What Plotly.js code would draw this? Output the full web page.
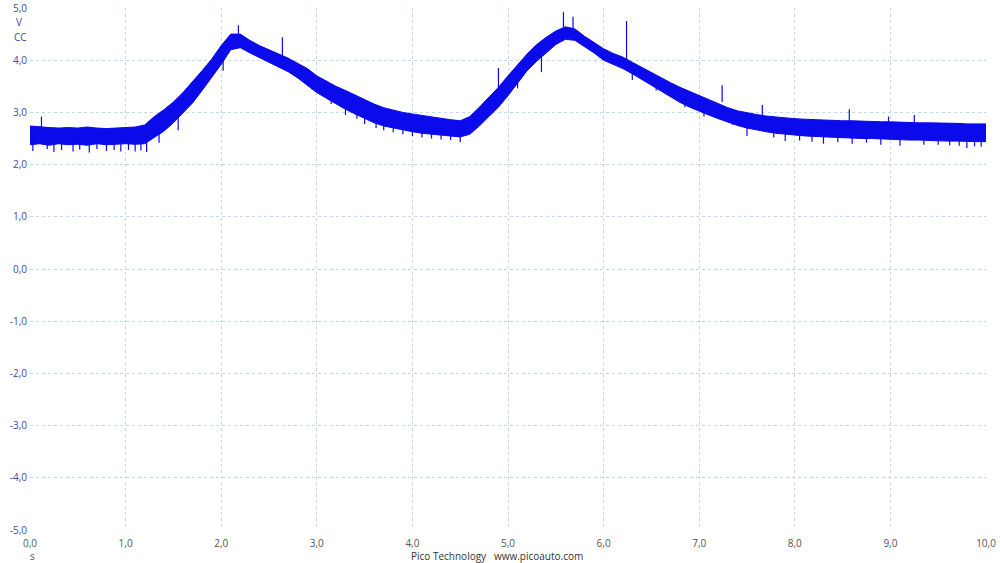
<!DOCTYPE html>
<html>
<head>
<meta charset="utf-8">
<script src="https://cdn.plot.ly/plotly-3.0.1.min.js"></script>
<style>html,body{margin:0;padding:0;background:#fff;}#chart{width:1000px;height:563px;}</style>
</head>
<body>
<div id="chart"></div>
<script>
// time samples (s)
const timeS = [0.0,0.1,0.2,0.3,0.4,0.5,0.6,0.7,0.8,0.9,1.0,1.1,1.2,1.3,1.4,1.5,1.6,1.7,1.8,1.9,
2.0,2.1,2.2,2.3,2.4,2.5,2.6,2.7,2.8,2.9,3.0,3.1,3.2,3.3,3.4,3.5,3.6,3.7,3.8,3.9,
4.0,4.1,4.2,4.3,4.4,4.5,4.6,4.7,4.8,4.9,5.0,5.1,5.2,5.3,5.4,5.5,5.6,5.7,5.8,5.9,
6.0,6.1,6.2,6.3,6.4,6.5,6.6,6.7,6.8,6.9,7.0,7.1,7.2,7.3,7.4,7.5,7.6,7.7,7.8,7.9,
8.0,8.1,8.2,8.3,8.4,8.5,8.6,8.7,8.8,8.9,9.0,9.1,9.2,9.3,9.4,9.5,9.6,9.7,9.8,9.9,10.0];
// upper envelope of the noisy trace (V)
const upperV = [2.74,2.72,2.71,2.70,2.71,2.70,2.72,2.70,2.69,2.70,2.71,2.72,
2.76,2.92,3.05,3.20,3.38,3.58,3.80,4.02,
4.28,4.50,4.50,4.38,4.28,4.20,4.12,4.04,3.94,3.84,3.70,3.60,3.50,3.42,3.33,3.24,3.16,3.09,3.04,3.00,
2.97,2.94,2.92,2.89,2.86,2.84,2.92,3.10,3.28,3.48,3.70,3.92,4.12,4.30,4.44,4.56,4.64,4.60,4.46,4.34,
4.22,4.13,4.06,3.96,3.86,3.76,3.66,3.57,3.48,3.40,3.32,3.24,3.16,3.09,3.03,2.99,2.96,2.93,2.91,2.89,
2.88,2.87,2.86,2.85,2.85,2.84,2.84,2.83,2.83,2.82,2.82,2.81,2.81,2.80,2.80,2.80,2.79,2.79,2.78,2.78,2.78];
// lower envelope of the noisy trace (V)
const lowerV = [2.38,2.40,2.37,2.40,2.38,2.39,2.37,2.40,2.38,2.39,2.40,2.39,
2.40,2.52,2.64,2.80,2.98,3.18,3.42,3.66,
3.92,4.20,4.24,4.14,4.05,3.96,3.88,3.78,3.66,3.52,3.38,3.27,3.16,3.06,2.97,2.88,2.80,2.74,2.70,2.66,
2.63,2.60,2.58,2.56,2.54,2.53,2.58,2.74,2.92,3.10,3.32,3.56,3.80,3.98,4.14,4.30,4.40,4.38,4.26,4.14,
4.00,3.92,3.84,3.74,3.63,3.51,3.40,3.30,3.19,3.10,3.02,2.95,2.88,2.81,2.75,2.70,2.66,2.63,2.60,2.58,
2.56,2.55,2.54,2.53,2.52,2.52,2.51,2.50,2.50,2.49,2.48,2.48,2.47,2.47,2.46,2.46,2.45,2.45,2.44,2.44,2.44];
// isolated glitches: time, low end, high end (V)
const spikeT  = [0.03,0.12,0.18,0.25,0.33,0.45,0.52,0.62,0.70,0.80,0.88,0.95,1.03,1.10,1.16,1.22,
1.35,1.55,1.82,2.02,2.18,2.64,2.95,3.15,3.30,3.42,3.50,3.62,3.70,3.80,3.90,4.00,4.10,4.20,4.30,4.40,4.50,
4.90,5.10,5.35,5.58,5.68,6.24,6.30,6.55,6.85,7.05,7.24,7.35,7.50,7.66,7.78,7.90,8.05,8.18,8.30,8.45,8.57,8.60,8.75,8.90,8.98,9.10,9.25,9.35,9.50,9.62,9.72,9.80,9.88,9.95];
const spikeLo = [2.26,2.60,2.30,2.24,2.28,2.25,2.29,2.23,2.30,2.26,2.28,2.25,2.28,2.25,2.27,2.24,
2.42,2.66,3.50,3.80,4.40,4.00,3.44,3.16,2.95,2.88,2.78,2.70,2.66,2.62,2.58,2.55,2.52,2.50,2.48,2.47,2.43,
3.40,3.46,3.77,4.50,4.50,3.95,3.62,3.42,3.10,2.92,3.20,2.76,2.55,2.85,2.52,2.45,2.46,2.44,2.40,2.43,2.70,2.40,2.42,2.38,2.60,2.36,2.60,2.38,2.38,2.37,2.36,2.32,2.35,2.34];
const spikeHi = [2.50,2.92,2.50,2.50,2.50,2.50,2.50,2.50,2.50,2.50,2.50,2.50,2.50,2.50,2.50,2.60,
2.70,2.90,3.80,4.10,4.67,4.44,3.70,3.40,3.20,3.10,3.00,2.92,2.90,2.85,2.80,2.78,2.80,2.76,2.75,2.72,2.70,
3.85,3.75,4.10,4.92,4.83,4.75,3.90,3.62,3.32,3.18,3.52,3.00,2.80,3.14,2.78,2.70,2.70,2.68,2.65,2.66,3.06,2.65,2.66,2.64,2.92,2.60,2.95,2.62,2.62,2.62,2.60,2.60,2.60,2.60];
// axis ticks
const xTickVals = [0,1,2,3,4,5,6,7,8,9,10];
const xTickText = ["0,0","1,0","2,0","3,0","4,0","5,0","6,0","7,0","8,0","9,0","10,0"];
const yTickVals = [5,4,3,2,1,0,-1,-2,-3,-4,-5];
const yTickText = ["5,0","4,0","3,0","2,0","1,0","0,0","-1,0","-2,0","-3,0","-4,0","-5,0"];

const traceBlue = 'rgb(10,10,235)';
const spX = [], spY = [];
for (let i = 0; i < spikeT.length; i++) {
  spX.push(spikeT[i], spikeT[i], null);
  spY.push(spikeLo[i], spikeHi[i], null);
}

const data = [
  {x: timeS, y: lowerV, type: 'scatter', mode: 'lines', line: {color: traceBlue, width: 1}, hoverinfo: 'skip', showlegend: false},
  {x: timeS, y: upperV, type: 'scatter', mode: 'lines', fill: 'tonexty', fillcolor: traceBlue, line: {color: traceBlue, width: 1}, hoverinfo: 'skip', showlegend: false},
  {x: spX, y: spY, type: 'scatter', mode: 'lines', line: {color: traceBlue, width: 1.2}, connectgaps: false, hoverinfo: 'skip', showlegend: false}
];

const gridC = '#bcdde8';
const layout = {
  width: 1000, height: 563,
  margin: {l: 30, r: 14, t: 8, b: 33, pad: 0},
  paper_bgcolor: '#ffffff', plot_bgcolor: '#ffffff',
  showlegend: false,
  font: {family: 'Open Sans, DejaVu Sans, sans-serif', size: 10},
  xaxis: {
    range: [0, 10], tickmode: 'array', tickvals: xTickVals, ticktext: xTickText,
    showgrid: true, gridcolor: gridC, griddash: '3px,3px', gridwidth: 1,
    zeroline: false, showline: false, ticks: '',
    tickfont: {color: '#555555', size: 10}, ticklabelstandoff: 6
  },
  yaxis: {
    range: [-5, 5], tickmode: 'array', tickvals: yTickVals, ticktext: yTickText,
    showgrid: true, gridcolor: gridC, griddash: '3px,3px', gridwidth: 1,
    zeroline: false, showline: false, ticks: '',
    tickfont: {color: '#4545a8', size: 10}, ticklabelstandoff: 2
  },
  annotations: [
    {text: 'V', xref: 'paper', yref: 'paper', x: -0.012, y: 0.974, xanchor: 'center', yanchor: 'middle', showarrow: false, font: {color: '#4545a8', size: 10}},
    {text: 'CC', xref: 'paper', yref: 'paper', x: -0.01, y: 0.945, xanchor: 'center', yanchor: 'middle', showarrow: false, font: {color: '#4545a8', size: 10}},
    {text: 's', xref: 'paper', yref: 'paper', x: 0.003, y: -0.05, xanchor: 'center', yanchor: 'middle', showarrow: false, font: {color: '#555555', size: 10}},
    {text: 'Pico Technology&nbsp;&nbsp;&nbsp;www.picoauto.com', xref: 'paper', yref: 'paper', x: 0.489, y: -0.05, xanchor: 'center', yanchor: 'middle', showarrow: false, font: {color: '#333333', size: 10}}
  ]
};

Plotly.newPlot('chart', data, layout, {staticPlot: true, displayModeBar: false});
</script>
</body>
</html>
